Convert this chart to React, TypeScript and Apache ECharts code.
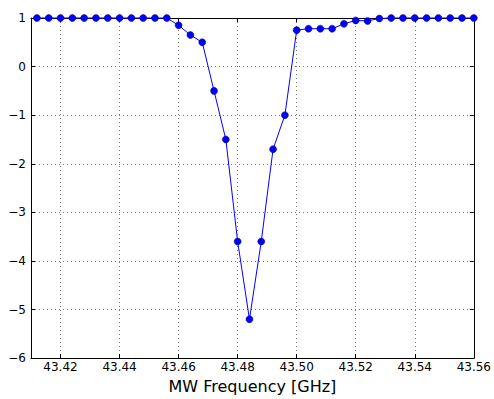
import React, { useEffect, useRef } from "react";
import * as echarts from "echarts";

const frequencies = [
  43.412, 43.416, 43.42, 43.424, 43.428, 43.432, 43.436, 43.44, 43.444, 43.448,
  43.452, 43.456, 43.46, 43.464, 43.468, 43.472, 43.476, 43.48, 43.484, 43.488,
  43.492, 43.496, 43.5, 43.504, 43.508, 43.512, 43.516, 43.52, 43.524, 43.528,
  43.532, 43.536, 43.54, 43.544, 43.548, 43.552, 43.556, 43.56,
];
const signal = [
  1, 1, 1, 1, 1, 1, 1, 1, 1, 1,
  1, 1, 0.85, 0.65, 0.5, -0.5, -1.5, -3.6, -5.2, -3.6,
  -1.7, -1.0, 0.75, 0.78, 0.78, 0.78, 0.88, 0.95, 0.94, 0.99,
  1, 1, 1, 1, 1, 1, 1, 1,
];
const xTicks = [43.42, 43.44, 43.46, 43.48, 43.5, 43.52, 43.54, 43.56];
const xName = "MW Frequency [GHz]";

const FONT = "DejaVu Sans";

export default function App() {
  const ref = useRef<HTMLDivElement>(null);
  useEffect(() => {
    if (!ref.current) return;
    const chart = echarts.init(ref.current, undefined, { renderer: "svg" });
    const gridLine = { show: true, lineStyle: { color: "#777", width: 1, type: [1, 3] as any } };
    const axisLine = { show: true, onZero: false, lineStyle: { color: "#000", width: 1 } };
    const tick = { show: true, inside: true, length: 4, lineStyle: { color: "#000" } };
    chart.setOption({
      animation: false,
      backgroundColor: "#fff",
      grid: { left: 31, right: 18, top: 18, bottom: 35, containLabel: false },
      xAxis: [
        {
          type: "value",
          min: 43.41,
          max: 43.56,
          name: xName,
          nameLocation: "middle",
          nameGap: 15,
          nameTextStyle: { fontFamily: FONT, fontSize: 16, color: "#000", verticalAlign: "top" },
          axisLine,
          axisTick: { ...tick, customValues: xTicks },
          splitLine: gridLine,
          axisLabel: {
            customValues: xTicks,
            fontFamily: FONT,
            fontSize: 12,
            color: "#000",
            margin: 3,
            formatter: (v: number) => v.toFixed(2),
          },
        },
        {
          type: "value",
          position: "top",
          min: 43.41,
          max: 43.56,
          axisLine,
          axisTick: { ...tick, customValues: xTicks },
          splitLine: { show: false },
          axisLabel: { show: false },
        },
      ],
      yAxis: [
        {
          type: "value",
          min: -6,
          max: 1,
          interval: 1,
          axisLine,
          axisTick: tick,
          splitLine: gridLine,
          axisLabel: {
            fontFamily: FONT,
            fontSize: 12,
            color: "#000",
            margin: 5,
            formatter: (v: number) => (v < 0 ? "\u2212" + Math.abs(v) : String(v)),
          },
        },
        {
          type: "value",
          position: "right",
          min: -6,
          max: 1,
          interval: 1,
          axisLine,
          axisTick: tick,
          splitLine: { show: false },
          axisLabel: { show: false },
        },
      ],
      series: [
        {
          type: "line",
          data: frequencies.map((f, i) => [f, signal[i]]),
          clip: false,
          symbol: "circle",
          symbolSize: 7,
          lineStyle: { color: "#0000ff", width: 1 },
          itemStyle: { color: "#0000ff", borderColor: "#00007a", borderWidth: 0.5 },
          z: 5,
        },
      ],
    });
    return () => chart.dispose();
  }, []);
  return <div ref={ref} style={{ width: 494, height: 399, position: "absolute", left: 0, top: 0 }} />;
}
